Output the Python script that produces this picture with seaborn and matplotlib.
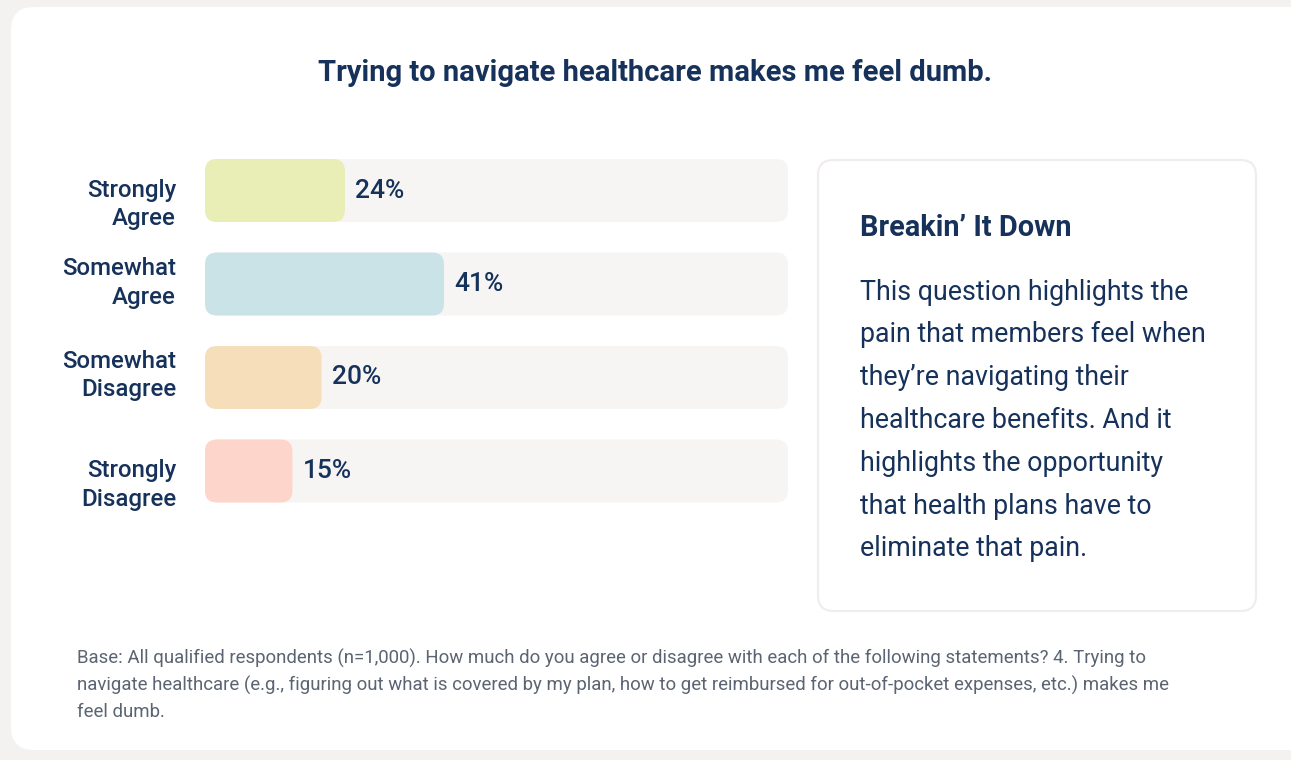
import matplotlib
matplotlib.use("Agg")
import matplotlib.pyplot as plt
from matplotlib.patches import FancyBboxPatch
import matplotlib.transforms as mtransforms
import seaborn as sns
import pandas as pd

# ---- data ----
categories = ["Strongly\nAgree", "Somewhat\nAgree", "Somewhat\nDisagree", "Strongly\nDisagree"]
shares = [24, 41, 20, 15]
bar_colors = ["#e8eeb5", "#cae3e7", "#f6deba", "#fed5ca"]

title = "Trying to navigate healthcare makes me feel dumb."
box_heading = "Breakin\u2019 It Down"
box_lines = [
    "This question highlights the",
    "pain that members feel when",
    "they\u2019re navigating their",
    "healthcare benefits. And it",
    "highlights the opportunity",
    "that health plans have to",
    "eliminate that pain.",
]
footnote_lines = [
    "Base: All qualified respondents (n=1,000). How much do you agree or disagree with each of the following statements? 4. Trying to",
    "navigate healthcare (e.g., figuring out what is covered by my plan, how to get reimbursed for out-of-pocket expenses, etc.) makes me",
    "feel dumb.",
]

NAVY = "#17325a"
GREY_TEXT = "#5b6472"
TRACK = "#f7f5f4"

sns.set_theme(style="white")
plt.rcParams["font.family"] = ["Roboto", "DejaVu Sans"]

W, H = 1291, 760
fig = plt.figure(figsize=(W / 100, H / 100), dpi=100, facecolor="#f4f1f1")


def fx(x):
    return x / W


def fy(y):
    return 1 - y / H


# white card behind everything
card = FancyBboxPatch((fx(11), fy(750)), fx(1320) - fx(11), fy(7) - fy(750),
                      boxstyle="round,pad=0,rounding_size=0.018",
                      transform=fig.transFigure, facecolor="white",
                      edgecolor="none", mutation_aspect=W / H, zorder=-5)
fig.patches.append(card)

# side box
side = FancyBboxPatch((fx(818), fy(611)), fx(1256) - fx(818), fy(160) - fy(611),
                      boxstyle="round,pad=0,rounding_size=0.012",
                      transform=fig.transFigure, facecolor="white",
                      edgecolor="#f2eded", linewidth=1.6, mutation_aspect=W / H, zorder=-4)
fig.patches.append(side)

# ---- bar chart ----
ax_left, ax_right = 205, 788
pitch = 93.5
first_center = 190.5
ax_top = first_center - pitch / 2
ax_bottom = first_center + pitch * 3.5
ax = fig.add_axes([fx(ax_left), fy(ax_bottom), fx(ax_right) - fx(ax_left), fy(ax_top) - fy(ax_bottom)])
ax.set_facecolor("none")
ax.set_zorder(2)

df = pd.DataFrame({"category": categories, "share": shares, "track": [100] * len(shares)})
bar_h = 63 / pitch

sns.barplot(data=df, x="track", y="category", color=TRACK, width=bar_h, ax=ax, saturation=1)
sns.barplot(data=df, x="share", y="category", hue="category", palette=bar_colors,
            width=bar_h, ax=ax, saturation=1, legend=False)

ax.set_xlim(0, 100)
ax.set_ylim(len(categories) - 0.5, -0.5)

# rounded corners: swap the plain rectangles for rounded boxes of the same geometry
ax_w_px = ax_right - ax_left
ax_h_px = ax_bottom - ax_top
x_per_px = 100 / ax_w_px
y_per_px = len(categories) / ax_h_px
radius_px = 12
for patch in list(ax.patches):
    x0, y0 = patch.get_x(), patch.get_y()
    w, h = patch.get_width(), patch.get_height()
    fc = patch.get_facecolor()
    patch.set_visible(False)
    rb = FancyBboxPatch((x0, y0), w, h,
                        boxstyle=f"round,pad=0,rounding_size={radius_px * x_per_px}",
                        mutation_aspect=y_per_px / x_per_px,
                        facecolor=fc, edgecolor="none", zorder=2 + (0 if w >= 100 else 1))
    ax.add_patch(rb)

# value labels
for container in ax.containers[1:]:
    ax.bar_label(container, labels=[f"{v:g}%" for v in container.datavalues],
                 padding=7.5, color=NAVY, fontsize=19, fontweight="medium")

# category labels, right-aligned left of the bars (the "Strongly" rows sit a bit lower)
ax.set_yticks(range(len(categories)))
ax.set_yticklabels([])
label_drop_px = [14, -1, -2, 14]
base = mtransforms.blended_transform_factory(ax.transAxes, ax.transData)
for i, (cat, drop) in enumerate(zip(categories, label_drop_px)):
    tr = base + mtransforms.ScaledTranslation(-29 / 100, -drop / 100, fig.dpi_scale_trans)
    ax.text(0, i, cat, transform=tr, ha="right", va="center", multialignment="right",
            fontsize=17.3, fontweight="medium", color=NAVY, linespacing=1.3)

ax.set_xlabel("")
ax.set_ylabel("")
ax.set_xticks([])
ax.tick_params(axis="y", length=0)
sns.despine(ax=ax, left=True, bottom=True)

# ---- texts ----
fig.text(fx(655), fy(73), title, ha="center", va="center",
         fontsize=21, fontweight="bold", color=NAVY)

fig.text(fx(860), fy(228), box_heading, ha="left", va="center",
         fontsize=20.8, fontweight="bold", color=NAVY)
for k, line in enumerate(box_lines):
    fig.text(fx(860), fy(292 + k * 42.8), line, ha="left", va="center",
             fontsize=19.3, color=NAVY)

for k, line in enumerate(footnote_lines):
    fig.text(fx(77), fy(658 + k * 27), line, ha="left", va="center",
             fontsize=13.45, color=GREY_TEXT)

fig.savefig("out.png", dpi=100, facecolor=fig.get_facecolor())
